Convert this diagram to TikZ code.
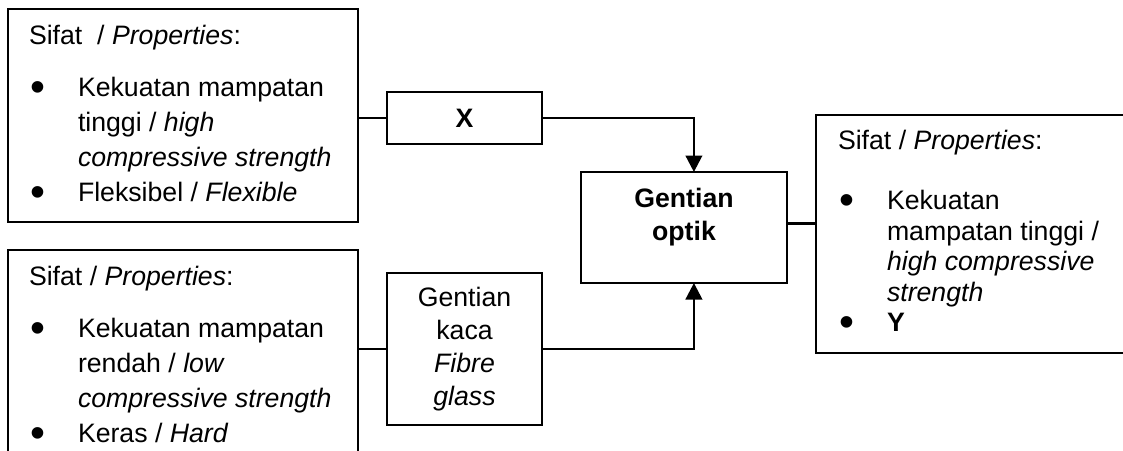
\documentclass[tikz,border=0pt]{standalone}
\usepackage{fontspec}
\setmainfont{Liberation Sans}
\usetikzlibrary{arrows.meta, positioning}

\newlength\pu
\setlength\pu{0.3937pt}
\newcommand{\titik}{\raisebox{-2pt}{\scalebox{1.6}{\textbullet}}}
\newcommand{\butir}[1]{\par\hangindent=49\pu\hangafter=1\noindent
  \makebox[49\pu][l]{\hspace{1\pu}\titik}#1}

\begin{document}
\begin{tikzpicture}[x=\pu, y=-\pu, line width=1pt,
    font=\fontsize{10.5}{13.8}\selectfont,
    kotak/.style={draw, inner sep=0pt, outer sep=0pt, anchor=north west},
    panah/.style={-{Triangle[length=6.5pt, width=6.5pt]}}]
    \useasboundingbox (0,0) rectangle (1123,450);
    \clip (0,0) rectangle (1123,450);
    % bahan asal
    \node[kotak, inner xsep=21\pu] (bahanA) at (8,9)
        {\parbox[c][213\pu][t]{308\pu}{\vspace*{16\pu}Sifat\ \ / \textit{Properties}:\par\vspace{17\pu}
        \butir{Kekuatan mampatan\\tinggi / \textit{high}\\\textit{compressive strength}}
        \butir{Fleksibel / \textit{Flexible}}}};
    \node[kotak, inner xsep=21\pu] (bahanB) at (8,250)
        {\parbox[c][213\pu][t]{308\pu}{\vspace*{16\pu}Sifat / \textit{Properties}:\par\vspace{17\pu}
        \butir{Kekuatan mampatan\\rendah / \textit{low}\\\textit{compressive strength}}
        \butir{Keras / \textit{Hard}}}};
    \node[kotak, minimum width=155\pu, minimum height=52\pu] (x) at (387,92) {\textbf{X}};
    \node[kotak, minimum width=155\pu, minimum height=152\pu, align=center,
        font=\fontsize{10.5}{13}\selectfont] (kaca) at (387,273)
        {Gentian\\kaca\\\textit{Fibre}\\\textit{glass}};
    % hasil
    \node[kotak] (optik) at (581,172)
        {\parbox[c][111\pu][t]{206\pu}{\centering\bfseries\fontsize{10.5}{13}\selectfont
        \vspace*{16\pu}Gentian\\optik}};
    \node[kotak, inner xsep=22\pu] (hasil) at (816,115)
        {\parbox[c][238\pu][t]{300\pu}{\fontsize{10.5}{12}\selectfont
        \vspace*{15\pu}Sifat / \textit{Properties}:\par\vspace{30\pu}
        \butir{Kekuatan\\mampatan tinggi /\\\textit{high compressive}\\\textit{strength}}
        \butir{\textbf{Y}}}};
    \draw (bahanA.east |- x.west) -- (x.west);
    \draw[panah] (x.east) -| ([xshift=3.9pt]optik.north);
    \draw (bahanB.east |- kaca.west) -- (kaca.west);
    \draw[panah] (kaca.east) -| ([xshift=3.9pt]optik.south);
    \draw ([yshift=1.6pt]optik.east) -- ([yshift=1.6pt]optik.east -| hasil.west);
\end{tikzpicture}
\end{document}
